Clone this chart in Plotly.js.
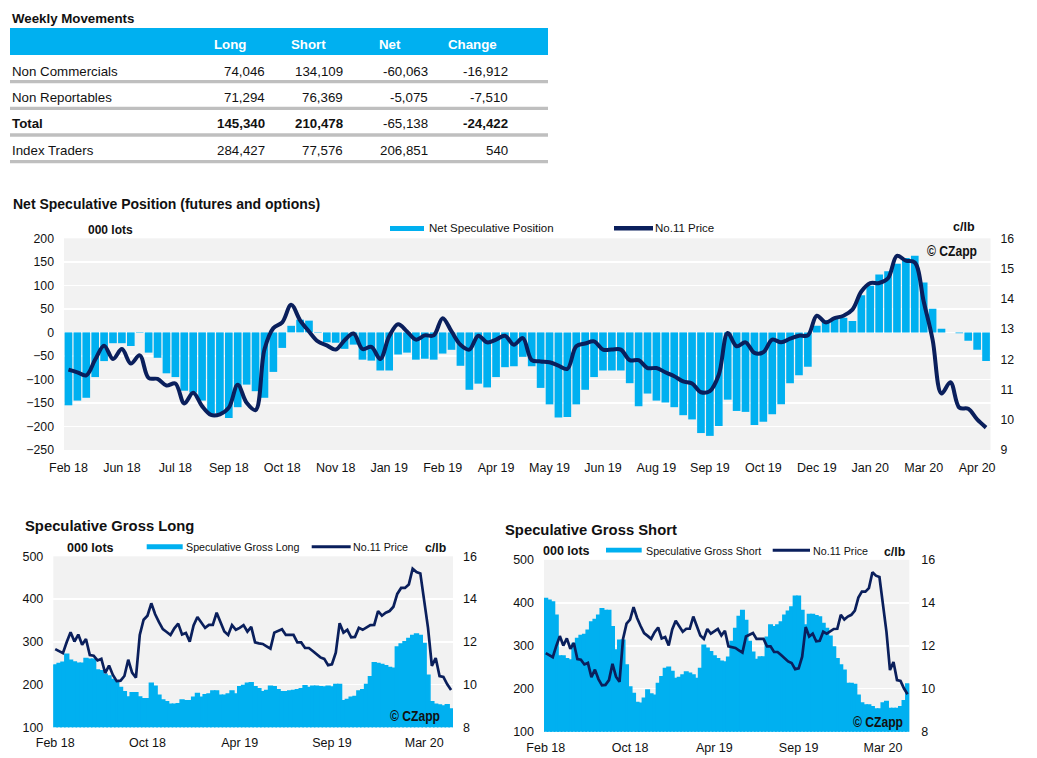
<!DOCTYPE html>
<html><head><meta charset="utf-8">
<script src="https://cdn.plot.ly/plotly-3.0.1.min.js"></script>
<style>html,body{margin:0;padding:0;background:#fff;overflow:hidden}#chart{width:1037px;height:758px}</style>
</head><body><div id="chart"></div>
<script>
// ---------- DATA ----------
const netPosition = [-155,-145,-139,-95,-61,-23,-23,-29,-1,-43,
 -54,-87,-95,-124,-128,-145,-173,-173,-182,-159,
 -111,-125,-139,-84,-33,14,27,25,-1,-21,
 -22,-35,-26,-58,-60,-81,-81,-47,-43,-58,
 -56,-58,-45,-37,-71,-122,-109,-117,-95,-74,
 -72,-52,-72,-118,-153,-181,-180,-153,-122,-95,
 -81,-81,-81,-108,-157,-130,-145,-149,-159,-176,
 -185,-214,-220,-199,-143,-167,-169,-197,-190,-174,
 -153,-108,-91,-73,14,26,31,31,24,79,
 99,123,130,146,158,163,106,50,8,0,
 -2,-18,-37,-61];
const price = [11.66,11.57,11.47,11.99,12.45,12.01,12.34,11.86,12.13,11.38,
 11.35,11.13,11.20,10.54,10.89,10.45,10.16,10.18,10.40,11.16,
 10.56,10.32,12.32,13.03,13.22,13.80,13.29,12.92,12.59,12.46,
 12.32,12.63,12.85,12.34,12.41,12.01,12.76,13.16,12.92,12.65,
 12.79,12.79,13.36,12.92,12.48,12.32,12.78,12.56,12.65,12.78,
 12.48,12.70,11.97,11.93,11.90,11.79,11.68,12.43,12.52,12.59,
 12.32,12.32,12.32,11.97,11.97,11.71,11.71,11.57,11.44,11.27,
 11.20,10.91,10.95,11.49,12.87,12.43,12.56,12.21,12.23,12.65,
 12.56,12.68,12.78,12.79,13.44,13.22,13.36,13.44,13.64,14.24,
 14.52,14.52,14.68,15.42,15.26,15.20,13.91,12.65,10.87,11.24,
 10.40,10.36,10.01,9.74];
const grossLong = [246,249,252,271,257,253,250,250,261,259,
 259,234,232,224,220,212,206,193,183,171,
 181,181,171,167,167,203,196,175,164,160,
 154,154,155,164,162,162,170,179,170,176,
 178,185,185,175,175,178,185,178,195,198,
 203,204,195,190,183,186,196,195,188,183,
 183,185,186,188,190,197,193,196,196,195,
 194,196,194,200,200,162,165,170,172,185,
 188,200,218,251,249,247,244,240,238,288,
 295,300,308,315,318,315,296,222,160,154,
 152,150,153,143];
const grossShort = [410,406,402,371,276,276,270,267,305,317,
 324,326,336,355,361,371,386,382,382,344,
 290,313,313,255,204,189,168,166,178,197,
 188,185,212,228,247,250,240,224,226,232,
 239,236,232,224,247,301,294,286,276,270,
 264,262,273,310,340,368,382,359,310,285,
 268,274,274,320,348,344,348,355,371,380,
 390,415,415,382,348,373,373,370,367,352,
 340,322,297,270,255,243,212,212,210,185,
 167,162,162,158,153,153,167,170,154,154,
 154,158,172,211];
const mainTickLabels = ['Feb 18','Jun 18','Jul 18','Sep 18','Oct 18','Nov 18','Jan 19','Feb 19','Apr 19','May 19','Jun 19','Aug 19','Sep 19','Oct 19','Dec 19','Jan 20','Mar 20','Apr 20'];
const smallTickLabels = ['Feb 18','Oct 18','Apr 19','Sep 19','Mar 20'];
const tableHeaders = ['Long','Short','Net','Change'];
const tableRows = ['Non Commercials','Non Reportables','Total','Index Traders'];
const longCol = ['74,046','71,294','145,340','284,427'];
const shortCol = ['134,109','76,369','210,478','77,576'];
const netCol = ['-60,063','-5,075','-65,138','206,851'];
const changeCol = ['-16,912','-7,510','-24,422','540'];

// ---------- LAYOUT HELPERS ----------
const W = 1037, H = 758;
const px = v => v / W;
const py = v => 1 - v / H;
const CYAN = '#00B0F0', NAVY = '#0A1F5C', BG = '#F2F2F2', TXT = '#111111';
const FONT = 'Liberation Sans, Arial, sans-serif';

const weeks = netPosition.map((_, i) => i);
const mainTicks = mainTickLabels.map((_, k) => k * 6);
const smallTicks = smallTickLabels.map((_, k) => k * 24);

function xAx(d, anchor, tv, tt, standoff, size) {
  return {domain: d, anchor: anchor, range: [-0.5, weeks.length - 0.5], tickmode: 'array', tickvals: tv, ticktext: tt,
    showgrid: false, zeroline: false, showline: false, ticks: '', tickfont: {size: size, color: TXT, family: FONT},
    ticklabelstandoff: standoff, fixedrange: true};
}
function yAx(d, anchor, range, dtick, standoff, size) {
  return {domain: d, anchor: anchor, range: range, tickmode: 'linear', tick0: range[0], dtick: dtick,
    showgrid: true, gridcolor: '#FFFFFF', gridwidth: 1.5, zeroline: false, showline: false, ticks: '',
    tickfont: {size: size, color: TXT, family: FONT}, ticklabelstandoff: standoff, fixedrange: true};
}
function yRight(overlay, anchor, range, dtick, standoff, size) {
  return {overlaying: overlay, anchor: anchor, side: 'right', range: range, tickmode: 'linear', tick0: range[0], dtick: dtick,
    showgrid: false, zeroline: false, showline: false, ticks: '',
    tickfont: {size: size, color: TXT, family: FONT}, ticklabelstandoff: standoff, fixedrange: true};
}

const stepBar = {color: CYAN, line: {color: CYAN, width: 1.5}};
const traces = [
  {type: 'bar', x: weeks, y: netPosition, xaxis: 'x', yaxis: 'y', width: 0.86, marker: {color: CYAN, line: {width: 0}}, hoverinfo: 'skip'},
  {type: 'scatter', mode: 'lines', x: weeks, y: price, xaxis: 'x', yaxis: 'y2', line: {color: NAVY, width: 4, shape: 'spline', smoothing: 1}, hoverinfo: 'skip'},
  {type: 'bar', x: weeks, y: grossLong, xaxis: 'x2', yaxis: 'y3', width: 1, marker: stepBar, hoverinfo: 'skip'},
  {type: 'scatter', mode: 'lines', x: weeks, y: price, xaxis: 'x2', yaxis: 'y4', line: {color: NAVY, width: 2.7}, hoverinfo: 'skip'},
  {type: 'bar', x: weeks, y: grossShort, xaxis: 'x3', yaxis: 'y5', width: 1, marker: stepBar, hoverinfo: 'skip'},
  {type: 'scatter', mode: 'lines', x: weeks, y: price, xaxis: 'x3', yaxis: 'y6', line: {color: NAVY, width: 2.7}, hoverinfo: 'skip'}
];

const annotations = [];
function ann(text, x, y, xanchor, size, opts) {
  annotations.push(Object.assign({text: text, x: px(x), y: py(y), xref: 'paper', yref: 'paper', xanchor: xanchor, yanchor: 'middle',
    showarrow: false, borderpad: 0, font: {size: size, color: TXT, family: FONT}}, opts || {}));
}
const shapes = [];
function rect(x0, y0, x1, y1, color) {
  shapes.push({type: 'rect', xref: 'paper', yref: 'paper', x0: px(x0), x1: px(x1), y0: py(y1), y1: py(y0), fillcolor: color, line: {width: 0}});
}
function hline(x0, x1, y, color, w) {
  shapes.push({type: 'line', xref: 'paper', yref: 'paper', x0: px(x0), x1: px(x1), y0: py(y), y1: py(y), line: {color: color, width: w}});
}

// ---------- TABLE ----------
ann('<b>Weekly Movements</b>', 11, 18, 'left', 13.3);
rect(10, 28, 548, 55, CYAN);
const headerCenters = [230, 308, 390, 472];
tableHeaders.forEach((h, k) => ann('<b>' + h + '</b>', headerCenters[k], 44.5, 'center', 13.3, {font: {size: 13.3, color: '#FFFFFF', family: FONT}}));
const rowCenters = [71, 97.5, 124, 150];
const valueRight = [266, 344, 429, 509];
const cols = [longCol, shortCol, netCol, changeCol];
tableRows.forEach((r, i) => {
  const total = (r === 'Total');
  ann(total ? '<b>' + r + '</b>' : r, 11, rowCenters[i], 'left', 13.3);
  cols.forEach((c, k) => {
    const bold = total && k !== 2;
    ann(bold ? '<b>' + c[i] + '</b>' : c[i], valueRight[k], rowCenters[i], 'right', 13.3);
  });
});
[81.7, 108.3, 135, 161.7].forEach(y => hline(10, 548, y, '#BFBFBF', 3.3));

// ---------- MAIN CHART LABELS ----------
ann('<b>Net Speculative Position (futures and options)</b>', 12, 204, 'left', 14);
ann('<b>000 lots</b>', 87, 229.5, 'left', 12);
rect(390, 226, 424, 231, CYAN);
ann('Net Speculative Position', 427.5, 228, 'left', 11.5);
hline(614, 653, 228.3, NAVY, 4.5);
ann('No.11 Price', 654, 228, 'left', 11.5);
ann('<b>c/lb</b>', 975.5, 227, 'right', 12.5);
ann('<b>© CZapp</b>', 951.7, 250, 'center', 15);

// ---------- BOTTOM LEFT LABELS ----------
ann('<b>Speculative Gross Long</b>', 24, 526, 'left', 14.8);
ann('<b>000 lots</b>', 65.5, 547.5, 'left', 12.5);
rect(146.7, 544.3, 182.7, 549.3, CYAN);
ann('Speculative Gross Long', 185, 547, 'left', 10.7);
hline(311.7, 350.7, 546.7, NAVY, 3);
ann('No.11 Price', 351.5, 547, 'left', 10.7);
ann('<b>c/lb</b>', 447, 548.3, 'right', 12.3);
ann('<b>© CZapp</b>', 415, 715.7, 'center', 15);

// ---------- BOTTOM RIGHT LABELS ----------
ann('<b>Speculative Gross Short</b>', 504, 530, 'left', 14.8);
ann('<b>000 lots</b>', 542, 551, 'left', 12.5);
rect(606, 547.7, 641.7, 552.5, CYAN);
ann('Speculative Gross Short', 644.5, 550.5, 'left', 10.7);
hline(772.7, 810, 550.3, NAVY, 3);
ann('No.11 Price', 812, 550.5, 'left', 10.7);
ann('<b>c/lb</b>', 905.5, 552.3, 'right', 12.3);
ann('<b>© CZapp</b>', 878, 721.7, 'center', 15);

const layout = {
  width: W, height: H, margin: {l: 0, r: 0, t: 0, b: 0}, paper_bgcolor: '#FFFFFF', plot_bgcolor: BG,
  showlegend: false, font: {family: FONT, color: TXT}, hovermode: false,
  xaxis: xAx([px(64), px(990.5)], 'y', mainTicks, mainTickLabels, 8, 12.5),
  yaxis: yAx([py(450), py(238.3)], 'x', [-250, 200], 50, 9, 12.3),
  yaxis2: yRight('y', 'x', [9, 16], 1, 9, 12.3),
  xaxis2: xAx([px(53.3), px(453)], 'y3', smallTicks, smallTickLabels, 6, 12.5),
  yaxis3: yAx([py(727.3), py(556.3)], 'x2', [100, 500], 100, 9, 12.5),
  yaxis4: yRight('y3', 'x2', [8, 16], 2, 9, 12.5),
  xaxis3: xAx([px(544), px(909.3)], 'y5', smallTicks, smallTickLabels, 7, 12.5),
  yaxis5: yAx([py(731.7), py(559.8)], 'x3', [100, 500], 100, 9, 12.5),
  yaxis6: yRight('y5', 'x3', [8, 16], 2, 11, 12.5),
  annotations: annotations, shapes: shapes
};
Plotly.newPlot('chart', traces, layout, {staticPlot: true, displayModeBar: false}).then(() => {
  // condensed look for the copyright mark (narrow bold face in the original)
  document.querySelectorAll('#chart .annotation-text').forEach(t => {
    if (t.textContent.indexOf('CZapp') >= 0) {
      t.setAttribute('textLength', '50');
      t.setAttribute('lengthAdjust', 'spacingAndGlyphs');
    }
  });
});
</script>
</body></html>
